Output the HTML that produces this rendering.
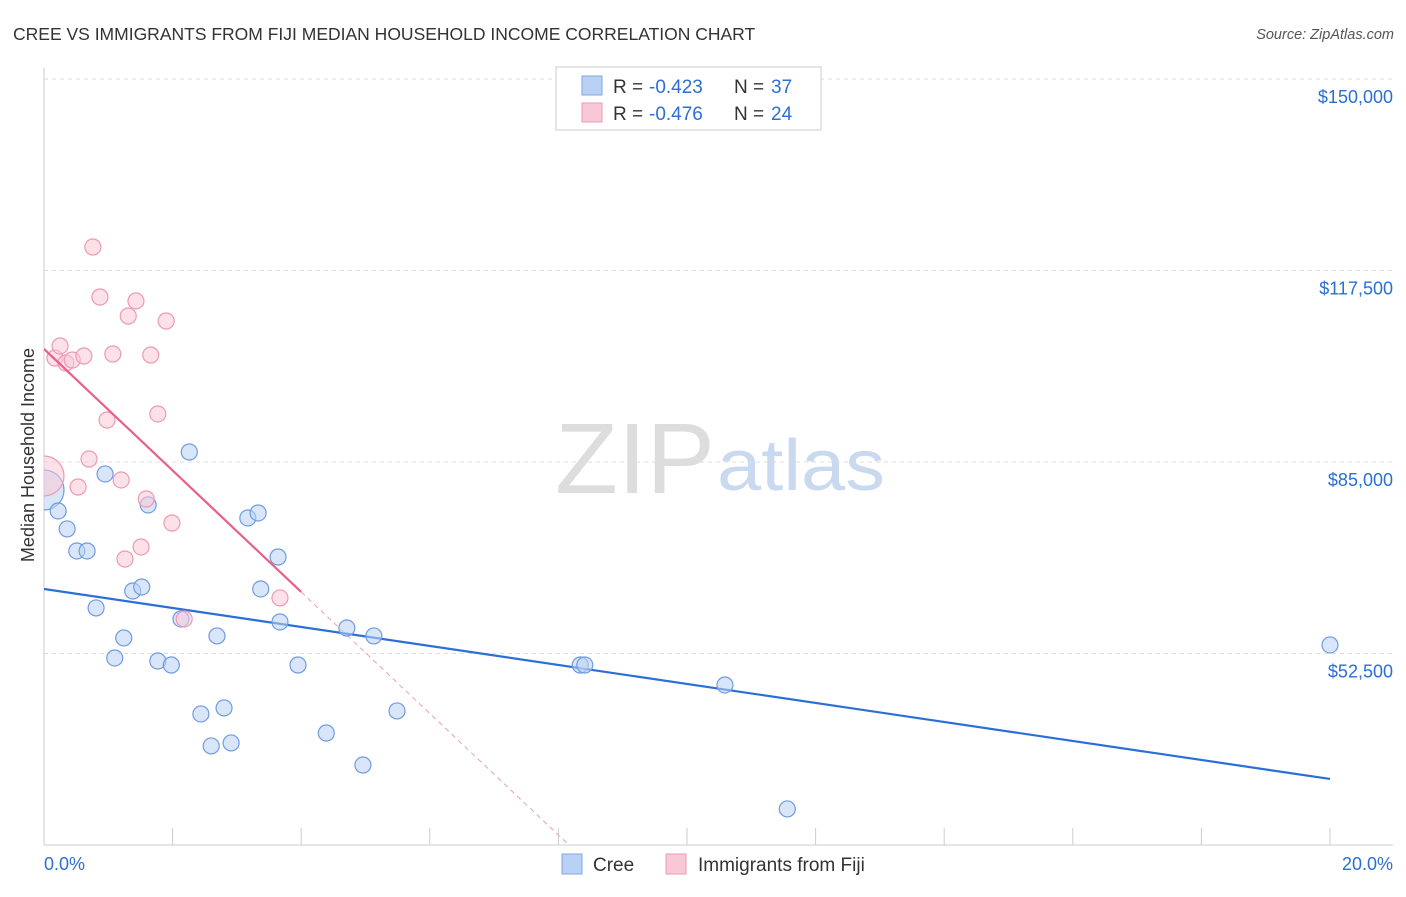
<!DOCTYPE html>
<html><head><meta charset="utf-8"><style>
body{margin:0;background:#fff;font-family:"Liberation Sans",sans-serif;}
svg text{font-family:"Liberation Sans",sans-serif;}
</style></head><body>
<svg width="1406" height="892" viewBox="0 0 1406 892">
<defs><clipPath id="plotclip"><rect x="44" y="60" width="1360" height="800"/></clipPath></defs>
<text x="13" y="40" font-size="17.5" fill="#333">CREE VS IMMIGRANTS FROM FIJI MEDIAN HOUSEHOLD INCOME CORRELATION CHART</text>
<text x="1394" y="39" font-size="14.5" fill="#555" font-style="italic" text-anchor="end">Source: ZipAtlas.com</text>
<g>
<text x="555" y="493" font-size="100" fill="#ddd" font-family="Liberation Serif" textLength="160" lengthAdjust="spacingAndGlyphs">ZIP</text>
<text x="717" y="490" font-size="72" fill="#c9d9f0" textLength="168" lengthAdjust="spacingAndGlyphs">atlas</text>
</g>
<g id="grid"></g>
<g id="axes"></g>
<g id="marks" clip-path="url(#plotclip)"></g>
<text transform="translate(34,455) rotate(-90)" font-size="18" fill="#333" text-anchor="middle">Median Household Income</text>
<g>
<rect x="556" y="67" width="265" height="63" fill="#fff" stroke="#ccc"/>
<rect x="582" y="76" width="20" height="19" fill="#b9d1f4" stroke="#7fa6e0"/>
<text x="613" y="93" font-size="19" fill="#333">R =</text>
<text x="649" y="93" font-size="19" fill="#2b6fd6">-0.423</text>
<text x="734" y="93" font-size="19" fill="#333">N =</text>
<text x="771" y="93" font-size="19" fill="#2b6fd6">37</text>
<rect x="582" y="103" width="20" height="19" fill="#f9c8d6" stroke="#ec9ab2"/>
<text x="613" y="120" font-size="19" fill="#333">R =</text>
<text x="649" y="120" font-size="19" fill="#2b6fd6">-0.476</text>
<text x="734" y="120" font-size="19" fill="#333">N =</text>
<text x="771" y="120" font-size="19" fill="#2b6fd6">24</text>
</g>
<g>
<rect x="562" y="854" width="20" height="20" fill="#b9d1f4" stroke="#7fa6e0"/>
<text x="593" y="871" font-size="19" fill="#333">Cree</text>
<rect x="666" y="854" width="20" height="20" fill="#f9c8d6" stroke="#ec9ab2"/>
<text x="698" y="871" font-size="19" fill="#333">Immigrants from Fiji</text>
</g>
</svg>
<script>
const yTicks=[52500,85000,117500,150000];
const yTickLabels=["$52,500","$85,000","$117,500","$150,000"];
const xTickLabels=["0.0%","20.0%"];
const creeX=[0,0.22,0.36,0.51,0.67,0.81,0.95,1.10,1.24,1.38,1.52,1.62,1.77,1.98,2.13,2.26,2.44,2.60,2.69,2.80,2.91,3.17,3.33,3.37,3.64,3.67,3.95,4.39,4.71,4.96,5.13,5.49,8.34,8.41,10.59,11.56,20.0];
const creeY=[80250,76690,73640,69900,69900,60230,82970,51740,55140,63110,63790,77710,51230,50550,58360,86700,42240,36810,55480,43260,37320,75500,76350,63450,68880,57850,50550,39010,56830,33580,55480,42750,50550,50550,47160,26120,53950];
const fijiX=[0,0.17,0.25,0.34,0.44,0.62,0.53,0.70,0.76,0.87,0.98,1.07,1.20,1.26,1.31,1.43,1.51,1.59,1.66,1.77,1.90,1.99,2.18,3.67];
const fijiY=[82630,102650,104690,101800,102310,102990,80760,85510,121490,113000,92130,103330,81950,68540,109780,112330,70580,78720,103160,93150,108930,74650,58360,61930];
const creeTrend=[63450,31210]; // values at x=0 and x=20
const fijiTrend=[104180,62940]; // values at x=0 and x=4
const X=v=>44+v*64.3, Y=v=>79+(150000-v)/32500*191.5;
const NS="http://www.w3.org/2000/svg";
function mk(p,t,a){const e=document.createElementNS(NS,t);for(const k in a)e.setAttribute(k,a[k]);p.appendChild(e);return e;}
const grid=document.getElementById('grid'),axes=document.getElementById('axes'),marks=document.getElementById('marks');
yTicks.forEach((t,i)=>{const l=mk(grid,'line',{x1:44,x2:1393,y1:Y(t),y2:Y(t),stroke:'#ddd','stroke-dasharray':'4,4'});

const tx=mk(grid,'text',{x:1393,y:Y(t)+24,'font-size':18,fill:'#2b6fd6','text-anchor':'end'});tx.textContent=yTickLabels[i];
});
let a=mk(axes,'line',{x1:44,x2:44,y1:68,y2:845,stroke:'#ccc'});
a=mk(axes,'line',{x1:44,x2:1393,y1:845,y2:845,stroke:'#ccc'});
for(let i=0;i<=10;i++){const t=mk(axes,'line',{x1:X(i*2),x2:X(i*2),y1:828,y2:845,stroke:'#ccc'});}
[[0,'start',44],[20,'end',1393]].forEach((d,i)=>{const t=mk(axes,'text',{x:d[2],y:870,'font-size':18,fill:'#2b6fd6','text-anchor':d[1]});t.textContent=xTickLabels[i];});
let tl=mk(marks,'line',{x1:X(0),y1:Y(creeTrend[0]),x2:X(20),y2:Y(creeTrend[1]),stroke:'#2b6fd6','stroke-width':2.2});

const fs=(fijiTrend[1]-fijiTrend[0])/4, fxEnd=(20000-fijiTrend[0])/fs;
tl=mk(marks,'line',{x1:X(4),y1:Y(fijiTrend[1]),x2:X(fxEnd),y2:Y(20000),stroke:'#e8a0b4','stroke-width':1,'stroke-dasharray':'5,4'});

function dots(xs,ys,fill,stroke,name){xs.forEach((x,i)=>{const c=mk(marks,'circle',{cx:X(x),cy:Y(ys[i]),r:i===0?20:8,fill:fill,'fill-opacity':0.55,stroke:stroke,'stroke-width':1.2});
});}
dots(creeX,creeY,'#b9d1f4','#6f9be0','cree-point');
dots(fijiX,fijiY,'#f9c8d6','#ec9ab2','fiji-point');
tl=mk(marks,'line',{x1:X(0),y1:Y(fijiTrend[0]),x2:X(4),y2:Y(fijiTrend[1]),stroke:'#e8608a','stroke-width':2.2});

</script>
</body></html>
